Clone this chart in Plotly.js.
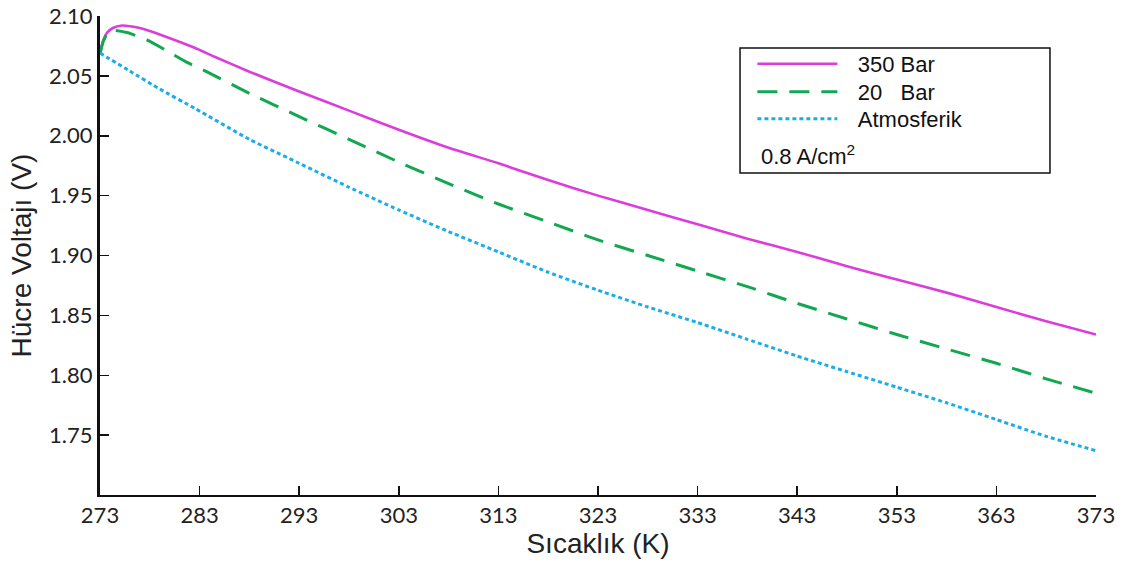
<!DOCTYPE html>
<html>
<head>
<meta charset="utf-8">
<script src="https://cdn.plot.ly/plotly-3.0.1.min.js"></script>
<style>html,body{margin:0;padding:0;background:#fff;}#chart{width:1126px;height:568px;}</style>
</head>
<body>
<div id="chart"></div>
<script>
// Data
const temp350 = [273, 273.3, 273.7, 274.3, 275.2, 276, 277, 278, 279.2, 282.5, 284.5, 288, 293, 298, 303, 308, 313, 318, 323, 328, 333, 338, 343, 348, 353, 358, 363, 368, 373];
const volt350 = [2.069, 2.079, 2.086, 2.090, 2.092, 2.0915, 2.090, 2.0875, 2.084, 2.0735, 2.066, 2.0535, 2.037, 2.021, 2.005, 1.990, 1.977, 1.963, 1.950, 1.938, 1.926, 1.914, 1.903, 1.891, 1.880, 1.869, 1.857, 1.845, 1.834];

const temp20 = [273, 273.3, 273.8, 274.5, 275.8, 277.7, 279.7, 281.8, 283.7, 288, 293, 298, 303, 308, 313, 318, 323, 328, 333, 338, 343, 348, 353, 358, 363, 368, 373];
const volt20 = [2.068, 2.078, 2.0865, 2.088, 2.086, 2.080, 2.071, 2.061, 2.0535, 2.0354, 2.016, 1.997, 1.978, 1.960, 1.943, 1.928, 1.913, 1.900, 1.887, 1.874, 1.860, 1.847, 1.834, 1.822, 1.810, 1.797, 1.785];

const tempAtm = [273, 276, 279, 282.5, 288, 293, 298, 303, 308, 313, 318, 323, 328, 333, 338, 343, 348, 353, 358, 363, 368, 373];
const voltAtm = [2.069, 2.054, 2.039, 2.023, 1.997, 1.977, 1.957, 1.938, 1.920, 1.903, 1.886, 1.871, 1.857, 1.844, 1.830, 1.816, 1.803, 1.790, 1.777, 1.763, 1.749, 1.737];

const seriesNames = ['350 Bar', '20\u00a0\u00a0 Bar', 'Atmosferik'];
const xTickVals = [273, 283, 293, 303, 313, 323, 333, 343, 353, 363, 373];
const yTickVals = [1.75, 1.80, 1.85, 1.90, 1.95, 2.00, 2.05, 2.10];
const yTickText = ['1.75', '1.80', '1.85', '1.90', '1.95', '2.00', '2.05', '2.10'];
const xTitle = 'Sıcaklık (K)';
const yTitle = 'Hücre Voltajı (V)';
const noteText = '0.8 A/cm<sup>2</sup>';

const pad = '\u2002\u2009';
const traces = [
  {x: temp350, y: volt350, name: pad + seriesNames[0], mode: 'lines', line: {color: '#DC3CDC', width: 2.6, shape: 'spline', smoothing: 0.5}, legend: 'legend'},
  {x: temp20, y: volt20, name: pad + seriesNames[1], mode: 'lines', line: {color: '#12A850', width: 3, dash: '20px,12px', shape: 'spline', smoothing: 0.5}, legend: 'legend2'},
  {x: tempAtm, y: voltAtm, name: pad + seriesNames[2], mode: 'lines', line: {color: '#1AAEE8', width: 3, dash: '4px,3px', shape: 'spline', smoothing: 0.5}, legend: 'legend3'}
];

const legendFont = {family: '"Liberation Sans", Arial, sans-serif', size: 22, color: '#111'};
function legendAt(y) {
  return {x: 0.655, y: y, xanchor: 'left', yanchor: 'middle', bgcolor: 'rgba(0,0,0,0)', borderwidth: 0,
          font: legendFont, itemwidth: 80};
}
const tickFont = {family: 'Lato, "Open Sans", sans-serif', size: 22, color: '#222'};
const titleFont = {family: '"Liberation Sans", Arial, sans-serif', size: 28, color: '#222'};
const layout = {
  width: 1126, height: 568,
  margin: {l: 100, r: 30, t: 16, b: 73},
  paper_bgcolor: '#fff', plot_bgcolor: '#fff',
  showlegend: true,
  legend: legendAt(0.8998),
  legend2: legendAt(0.8413),
  legend3: legendAt(0.785),
  xaxis: {
    range: [273, 373], tickvals: xTickVals, ticktext: xTickVals.map(String),
    showgrid: false, zeroline: false, showline: true, linecolor: '#111', linewidth: 2,
    ticks: 'inside', ticklen: 9, tickwidth: 1.5, tickcolor: '#111',
    tickfont: tickFont,
    title: {text: xTitle, font: titleFont, standoff: 6}
  },
  yaxis: {
    range: [1.70, 2.10], tickvals: yTickVals, ticktext: yTickText,
    showgrid: false, zeroline: false, showline: true, linecolor: '#111', linewidth: 3,
    ticks: 'inside', ticklen: 9, tickwidth: 1.5, tickcolor: '#111',
    tickfont: tickFont,
    title: {text: yTitle, font: titleFont, standoff: 10}
  },
  shapes: [
    {type: 'rect', xref: 'paper', yref: 'paper', x0: 0.6426, x1: 0.9538, y0: 0.6722, y1: 0.9332,
     line: {color: '#111', width: 1.5}, fillcolor: 'rgba(0,0,0,0)'}
  ],
  annotations: [
    {text: noteText, xref: 'paper', yref: 'paper', x: 0.6620, y: 0.710, xanchor: 'left', yanchor: 'middle',
     showarrow: false, font: legendFont}
  ]
};

Plotly.newPlot('chart', traces, layout, {displayModeBar: false, staticPlot: true});
</script>
</body>
</html>
